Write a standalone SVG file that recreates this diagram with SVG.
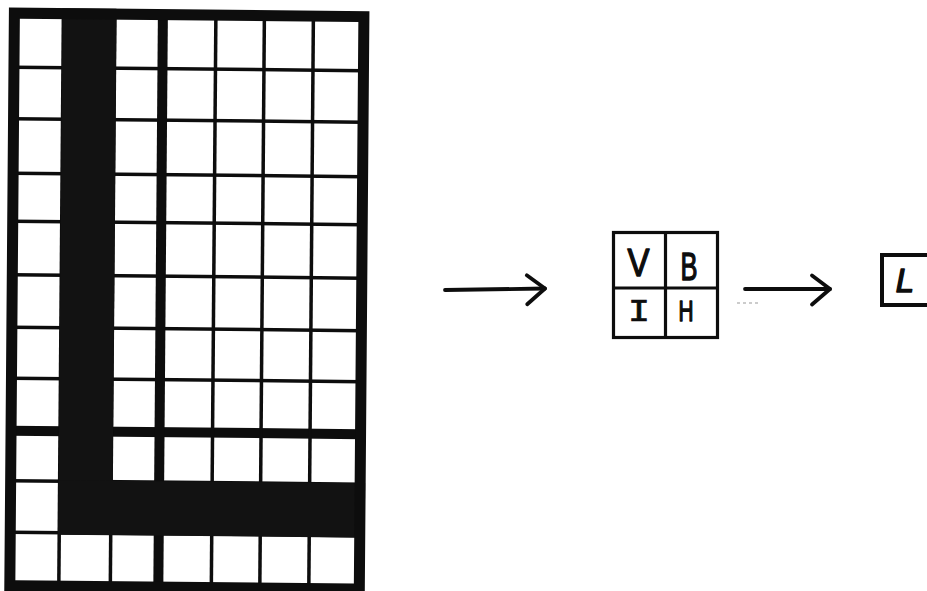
<svg xmlns="http://www.w3.org/2000/svg" width="927" height="591" viewBox="0 0 927 591">
  <style>
    .frame { fill: none; stroke: #0d0d0d; stroke-width: 11; }
    .thin { stroke: #0d0d0d; stroke-width: 3.5; fill: none; }
    .thick { stroke: #0d0d0d; stroke-width: 10; fill: none; }
    .dark { fill: #121212; }
    .box { fill: none; stroke: #0d0d0d; stroke-width: 3.2; }
    .arrow { fill: none; stroke: #0d0d0d; stroke-width: 3.8; stroke-linecap: round; stroke-linejoin: round; }
    .lbl { font-family: "Liberation Sans", "DejaVu Sans", sans-serif; fill: #0d0d0d; stroke: #0d0d0d; stroke-width: 1.4; stroke-linejoin: round; text-anchor: middle; }
    .mono { font-family: "DejaVu Sans Mono", "Liberation Mono", monospace; fill: #0d0d0d; stroke: #0d0d0d; stroke-width: 0.6; text-anchor: middle; }
  </style>
  <defs>
    <marker id="chev" markerUnits="userSpaceOnUse" viewBox="-22 -18 26 36" refX="0" refY="0" markerWidth="26" markerHeight="36" orient="auto" overflow="visible">
      <path d="M-18,-13.5 L0,0 L-18,15.5" fill="none" stroke="#0d0d0d" stroke-width="3.8" stroke-linecap="round" stroke-linejoin="round"/>
    </marker>
  </defs>
  <rect x="0" y="0" width="927" height="591" fill="#ffffff"/>

  <g id="grid" transform="matrix(1 0.01 -0.008 1 0 -0.5)">
    <g id="grid-lines">
      <line class="thin" x1="14" y1="67.5" x2="364" y2="67.5"/>
      <line class="thin" x1="14" y1="119" x2="364" y2="119"/>
      <line class="thin" x1="14" y1="173.5" x2="364" y2="173.5"/>
      <line class="thin" x1="14" y1="221.5" x2="364" y2="221.5"/>
      <line class="thin" x1="14" y1="275" x2="364" y2="275"/>
      <line class="thin" x1="14" y1="327.5" x2="364" y2="327.5"/>
      <line class="thin" x1="14" y1="378.5" x2="364" y2="378.5"/>
      <line class="thick" x1="14" y1="431" x2="364" y2="431"/>
      <line class="thin" x1="14" y1="481" x2="364" y2="481"/>
      <line class="thin" x1="14" y1="532.5" x2="364" y2="532.5"/>
      <line class="thin" x1="63.5" y1="13" x2="63.5" y2="586"/>
      <line class="thin" x1="115" y1="13" x2="115" y2="586"/>
      <line class="thick" x1="163" y1="13" x2="163" y2="586"/>
      <line class="thin" x1="216" y1="13" x2="216" y2="586"/>
      <line class="thin" x1="264.5" y1="13" x2="264.5" y2="586"/>
      <line class="thin" x1="313.5" y1="13" x2="313.5" y2="586"/>
    </g>
    <rect class="dark" x="62.5" y="8" width="54" height="526"/>
    <rect class="dark" x="62.5" y="480" width="306.5" height="54.5"/>
    <rect class="frame" x="14.5" y="13.5" width="349.5" height="572.5"/>
  </g>

  <g id="connectors">
    <path class="arrow" d="M445,290 L545,288.5" marker-end="url(#chev)"/>
    <path class="arrow" d="M745,289 L830,289" marker-end="url(#chev)"/>
    <line x1="737" y1="303" x2="758" y2="303" stroke="#9a9a9a" stroke-width="1.2" stroke-dasharray="3 3"/>
  </g>

  <g id="node-vbih">
    <rect class="box" x="613.5" y="232.5" width="104" height="105"/>
    <line class="box" x1="665.5" y1="232.5" x2="665.5" y2="337.5"/>
    <line class="box" x1="613.5" y1="288" x2="717.5" y2="288"/>
    <text class="lbl" x="638.5" y="276" font-size="38" textLength="22" lengthAdjust="spacingAndGlyphs">V</text>
    <text class="lbl" x="689" y="280" font-size="38" textLength="17" lengthAdjust="spacingAndGlyphs">B</text>
    <text class="mono" x="639" y="321" font-size="29" textLength="22" lengthAdjust="spacingAndGlyphs">I</text>
    <text class="lbl" x="686" y="321" font-size="29" textLength="15" lengthAdjust="spacingAndGlyphs">H</text>
  </g>

  <g id="node-l">
    <rect x="882" y="255" width="70" height="50" fill="none" stroke="#0d0d0d" stroke-width="4"/>
    <text class="lbl" x="905" y="292" font-size="33" font-style="italic">L</text>
  </g>
</svg>
